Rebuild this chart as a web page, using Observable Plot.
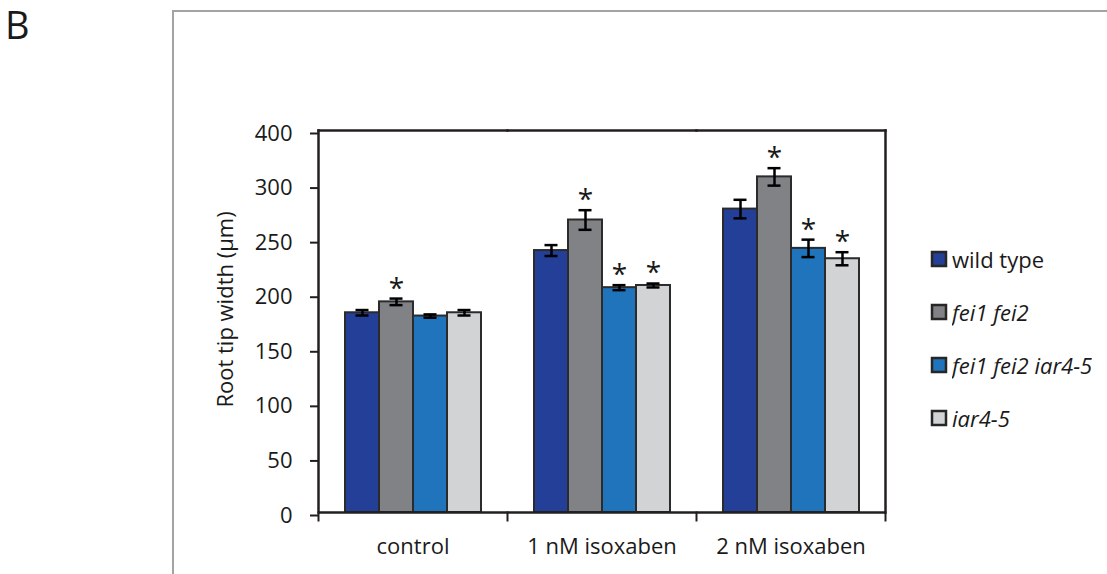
<!DOCTYPE html>
<html>
<head>
<meta charset="utf-8">
<script src="https://cdn.jsdelivr.net/npm/d3@7"></script>
<script src="https://cdn.jsdelivr.net/npm/@observablehq/plot@0.6"></script>
<style>
  html, body { margin: 0; padding: 0; background: #fff; overflow: hidden; }
  body { width: 1107px; height: 574px; position: relative; font-family: "Open Sans", sans-serif; color: #1a1a1a; }
  #panel { position: absolute; left: 5px; top: 5px; font-size: 38px; line-height: 1; }
  #box { position: absolute; left: 172px; top: 10px; width: 1000px; height: 700px; border: 2px solid #a3a3a3; }
  #chart { position: absolute; left: 0; top: 0; }
  #legend { position: absolute; left: 932px; top: 232px; }
  .lg-swatches { font-family: "Open Sans", sans-serif; font-size: 22px; color: #1a1a1a; margin: 0; }
  .lg-swatch { height: 53px; padding-bottom: 0 !important; }
  .lg-swatch > svg { margin-right: 6px !important; }
  .lg-swatch > svg rect { stroke: #262626; stroke-width: 2.5px; }
  .lg-swatch:not(:nth-of-type(1)) .lg-swatch-label { font-style: italic; }
</style>
</head>
<body>
<div id="box"></div>
<div id="panel">B</div>
<div id="chart"></div>
<div id="legend"></div>
<script>
// ---- data ----
const conditions = ["control", "1 nM isoxaben", "2 nM isoxaben"];
const genotypes = ["wild type", "fei1 fei2", "fei1 fei2 iar4-5", "iar4-5"];
const colors = ["#233f98", "#808285", "#1f74bb", "#d1d3d4"];

// mean root tip width per condition (control, 1 nM, 2 nM)
const wildType      = [183, 240, 278];
const fei1fei2      = [193, 268, 307.5];
const fei1fei2iar45 = [180, 206, 242];
const iar45         = [183, 208, 232.5];

// error bar half-lengths
const wildTypeErr      = [2.5, 5, 8.5];
const fei1fei2Err      = [3, 9, 8];
const fei1fei2iar45Err = [1.5, 2.3, 8];
const iar45Err         = [2.5, 1.8, 6];

// significance asterisks
const wildTypeSig      = [false, false, false];
const fei1fei2Sig      = [true, true, true];
const fei1fei2iar45Sig = [false, true, true];
const iar45Sig         = [false, true, true];

const yTicks = [0, 50, 100, 150, 200, 250, 300, 350];
const yTickLabels = ["0", "50", "100", "150", "200", "250", "300", "400"];
const yLabel = "Root tip width (µm)";

// ---- build table ----
const series = [
  [wildType, wildTypeErr, wildTypeSig],
  [fei1fei2, fei1fei2Err, fei1fei2Sig],
  [fei1fei2iar45, fei1fei2iar45Err, fei1fei2iar45Sig],
  [iar45, iar45Err, iar45Sig]
];
const data = [];
conditions.forEach((c, ci) => {
  genotypes.forEach((g, gi) => {
    const [m, e, s] = series[gi];
    data.push({cond: c, geno: g, value: m[ci], err: e[ci], sig: s[ci]});
  });
});

const ink = "#231f20";
const plotH = 574 - 130 - 62;

const chart = Plot.plot({
  width: 900,
  height: 574,
  marginLeft: 317,
  marginRight: 14,
  marginTop: 130,
  marginBottom: 62,
  style: {fontFamily: "Open Sans", fontSize: "22px", color: "#1a1a1a", background: "transparent", overflow: "visible"},
  fx: {domain: conditions, padding: 0, label: null},
  x: {domain: genotypes, paddingInner: 0, paddingOuter: 0.76, axis: null},
  y: {domain: [0, 350], label: null},
  color: {domain: genotypes, range: colors},
  marks: [
    Plot.barY(data, {fx: "cond", x: "geno", y: "value", fill: "geno", stroke: "#2b2b2b", strokeWidth: 2}),
    Plot.ruleX(data, {fx: "cond", x: "geno", y1: d => d.value - d.err, y2: d => d.value + d.err, stroke: "#000", strokeWidth: 2.5}),
    Plot.tickY(data, {fx: "cond", x: "geno", y: d => d.value + d.err, stroke: "#000", strokeWidth: 2.5, insetLeft: 10.5, insetRight: 10.5}),
    Plot.tickY(data, {fx: "cond", x: "geno", y: d => d.value - d.err, stroke: "#000", strokeWidth: 2.5, insetLeft: 10.5, insetRight: 10.5}),
    Plot.text(data.filter(d => d.sig), {fx: "cond", x: "geno", y: d => d.value + d.err, text: () => "*", fontSize: 28, dy: -10, fill: "#1a1a1a"}),
    // frame: top, bottom, left, right
    Plot.frame({anchor: "top", stroke: ink, strokeWidth: 2.5}),
    Plot.ruleY([0], {stroke: ink, strokeWidth: 2.5}),
    Plot.frame({anchor: "left", facetAnchor: "left", stroke: ink, strokeWidth: 2.5}),
    Plot.frame({anchor: "right", facetAnchor: "right", stroke: ink, strokeWidth: 2.5}),
    // category separator ticks below the axis
    Plot.frame({anchor: "left", stroke: ink, strokeWidth: 2, insetTop: plotH, insetBottom: -8}),
    Plot.frame({anchor: "right", facetAnchor: "right", stroke: ink, strokeWidth: 2, insetTop: plotH, insetBottom: -8}),
    Plot.axisY({ticks: yTicks, tickFormat: d => yTickLabels[yTicks.indexOf(d)], tickSize: 8, tickPadding: 18, stroke: ink, strokeWidth: 2, label: null, dy: 3}),
    Plot.axisFx({anchor: "bottom", tickSize: 0, tickPadding: 26, label: null}),
    Plot.text([yLabel], {text: d => d, frameAnchor: "left", textAnchor: "middle", lineAnchor: "middle", rotate: -90, dx: -93, dy: -12, fontSize: 22, facetAnchor: "left", fill: "#1a1a1a"})
  ]
});
document.getElementById("chart").appendChild(chart);

const legend = chart.legend("color", {legend: "swatches", columns: 1, className: "lg", swatchSize: 14});
document.getElementById("legend").appendChild(legend);
</script>
</body>
</html>
